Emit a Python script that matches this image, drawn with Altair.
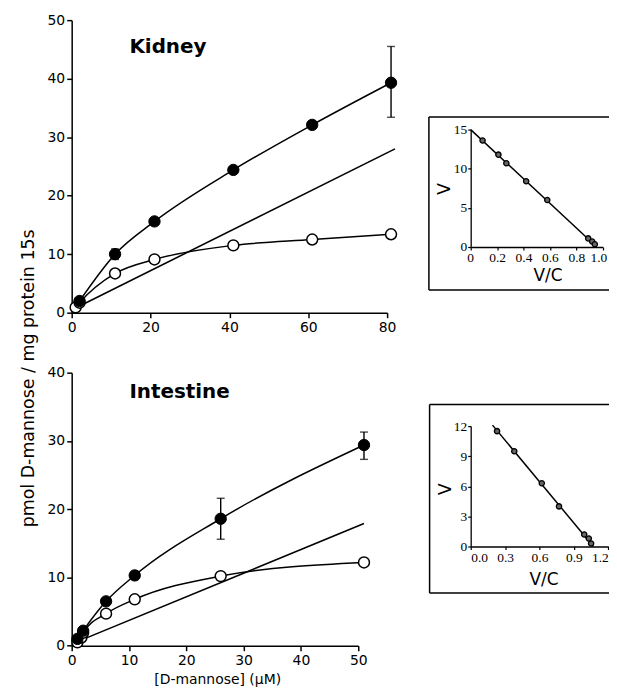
import altair as alt
import pandas as pd

# ---------------- Kidney (main) ----------------
kid_x_filled = [2, 11, 21, 41, 61, 81]
kid_y_filled = [2.0, 10.0, 15.6, 24.4, 32.1, 39.3]
kid_err_x = [11, 81]
kid_err_lo = [9.1, 33.4]
kid_err_hi = [10.9, 45.5]
kid_x_open = [1, 2, 11, 21, 41, 61, 81]
kid_y_open = [0.9, 1.7, 6.7, 9.1, 11.5, 12.5, 13.4]
kid_lin_x = [1, 82]
kid_lin_y = [0.8, 28.0]

# ---------------- Intestine (main) ----------------
int_x_filled = [1, 2, 6, 11, 26, 51]
int_y_filled = [1.0, 2.2, 6.5, 10.3, 18.6, 29.4]
int_err_x = [11, 26, 51]
int_err_lo = [9.7, 15.6, 27.3]
int_err_hi = [10.9, 21.6, 31.3]
int_x_open = [1, 1.7, 2, 6, 11, 26, 51]
int_y_open = [0.5, 1.2, 1.9, 4.7, 6.8, 10.2, 12.2]
int_lin_x = [1, 51]
int_lin_y = [0.6, 17.9]

# ---------------- Insets (Eadie-Hofstee) ----------------
kin_vc = [0.09, 0.21, 0.27, 0.42, 0.58, 0.89, 0.92, 0.94]
kin_v = [13.6, 11.8, 10.7, 8.4, 6.0, 1.1, 0.7, 0.35]
kin_line_vc = [0.0, 0.955]
kin_line_v = [15.0, 0.0]

iin_vc = [0.23, 0.38, 0.62, 0.77, 0.99, 1.03, 1.05]
iin_v = [11.5, 9.5, 6.3, 4.0, 1.2, 0.8, 0.3]
iin_line_vc = [0.19, 1.07]
iin_line_v = [12.1, 0.0]

SANS = "DejaVu Sans"
SERIF = "Liberation Serif"
one = pd.DataFrame({"a": [0]})


def main_panel(xf, yf, xo, yo, ex, elo, ehi, lx, ly, xmax, ymax, xticks, yticks,
               w, h, label, label_pos, extra_texts):
    xs = alt.Scale(domain=[0, xmax], nice=False, zero=True)
    ys = alt.Scale(domain=[0, ymax], nice=False, zero=True)
    xax = alt.Axis(values=xticks, title=None, grid=False, domainColor="black",
                   domainWidth=1.5, tickColor="black", tickWidth=1.5, tickSize=5,
                   labelFont=SANS, labelFontSize=14, labelColor="black", labelPadding=3,
                   labelFlush=False)
    yax = alt.Axis(values=yticks, title=None, grid=False, domainColor="black",
                   domainWidth=1.5, tickColor="black", tickWidth=1.5, tickSize=5,
                   labelFont=SANS, labelFontSize=14, labelColor="black", labelPadding=2,
                   labelFlush=False)
    X = alt.X("x:Q", scale=xs, axis=xax)
    Y = alt.Y("y:Q", scale=ys, axis=yax)

    dfl = pd.DataFrame({"x": lx, "y": ly})
    dff = pd.DataFrame({"x": xf, "y": yf})
    dfo = pd.DataFrame({"x": xo, "y": yo})
    dfe = pd.DataFrame({"x": ex, "y": elo, "y2": ehi})

    lin = alt.Chart(dfl).mark_line(color="black", strokeWidth=1.6).encode(x=X, y=Y)
    cf = alt.Chart(dff).mark_line(color="black", strokeWidth=1.5,
                                  interpolate="monotone").encode(x=X, y=Y)
    co = alt.Chart(dfo).mark_line(color="black", strokeWidth=1.5,
                                  interpolate="monotone").encode(x=X, y=Y)
    er = alt.Chart(dfe).mark_rule(color="black", strokeWidth=1.4).encode(
        x=X, y=Y, y2="y2:Q")
    cap_lo = alt.Chart(dfe).mark_tick(color="black", orient="horizontal", size=8,
                                      thickness=1.4).encode(x=X, y=Y)
    cap_hi = alt.Chart(dfe).mark_tick(color="black", orient="horizontal", size=8,
                                      thickness=1.4).encode(x=X, y=alt.Y("y2:Q", scale=ys))
    po = alt.Chart(dfo).mark_point(shape="circle", filled=True, fill="white",
                                   stroke="black", strokeWidth=1.5, size=120,
                                   opacity=1).encode(x=X, y=Y)
    pf = alt.Chart(dff).mark_point(shape="circle", filled=True, fill="black",
                                   stroke="black", strokeWidth=1, size=130,
                                   opacity=1).encode(x=X, y=Y)
    lab = alt.Chart(one).mark_text(text=label, font=SANS, fontWeight="bold",
                                   fontSize=20, align="left", baseline="middle",
                                   color="black").encode(
        x=alt.value(label_pos[0]), y=alt.value(label_pos[1]))
    layers = [lin, cf, co, er, cap_lo, cap_hi, po, pf, lab]
    for (t, px, py, ang, fs) in extra_texts:
        kw = dict(text=t, font=SANS, fontSize=fs, align="center", baseline="middle",
                  color="black")
        if ang:
            kw["angle"] = ang
        layers.append(alt.Chart(one).mark_text(**kw).encode(
            x=alt.value(px), y=alt.value(py)))
    return alt.layer(*layers).properties(width=w, height=h)


def inset_panel(pvc, pv, lvc, lv, xmax, ymax, xticks, yticks, xfmt_expr, w, h,
                frame, vc_pos, v_pos, flush_off):
    xs = alt.Scale(domain=[0, xmax], nice=False, zero=True)
    ys = alt.Scale(domain=[0, ymax], nice=False, zero=True)
    xax = alt.Axis(values=xticks, title=None, grid=False, domainColor="black",
                   domainWidth=1.3, tickColor="black", tickWidth=1.2, tickSize=3,
                   labelFont=SERIF, labelFontSize=13.5, labelColor="black",
                   labelPadding=1, labelFlush=True, labelFlushOffset=flush_off,
                   labelExpr=xfmt_expr)
    yax = alt.Axis(values=yticks, title=None, grid=False, domainColor="black",
                   domainWidth=1.3, tickColor="black", tickWidth=1.2, tickSize=3,
                   labelFont=SERIF, labelFontSize=13.5, labelColor="black",
                   labelPadding=1, labelFlush=False)
    X = alt.X("x:Q", scale=xs, axis=xax)
    Y = alt.Y("y:Q", scale=ys, axis=yax)
    dfl = pd.DataFrame({"x": lvc, "y": lv})
    dfp = pd.DataFrame({"x": pvc, "y": pv})
    lin = alt.Chart(dfl).mark_line(color="black", strokeWidth=1.5).encode(x=X, y=Y)
    pts = alt.Chart(dfp).mark_point(shape="circle", filled=True, fill="#666666",
                                    stroke="black", strokeWidth=1.3, size=28,
                                    opacity=1).encode(x=X, y=Y)
    fx1, fy1, fx2, fy2 = frame
    fl = alt.Chart(one).mark_rule(color="black", strokeWidth=1.5).encode(
        x=alt.value(fx1), y=alt.value(fy1), y2=alt.value(fy2))
    ft = alt.Chart(one).mark_rule(color="black", strokeWidth=1.5).encode(
        x=alt.value(fx1), x2=alt.value(fx2), y=alt.value(fy1))
    fb = alt.Chart(one).mark_rule(color="black", strokeWidth=1.5).encode(
        x=alt.value(fx1), x2=alt.value(fx2), y=alt.value(fy2))
    tvc = alt.Chart(one).mark_text(text="V/C", font=SANS, fontSize=17,
                                   align="center", baseline="middle",
                                   color="black").encode(
        x=alt.value(vc_pos[0]), y=alt.value(vc_pos[1]))
    tv = alt.Chart(one).mark_text(text="V", font=SANS, fontSize=17, angle=270,
                                  align="center", baseline="middle",
                                  color="black").encode(
        x=alt.value(v_pos[0]), y=alt.value(v_pos[1]))
    return alt.layer(fl, ft, fb, lin, pts, tvc, tv).properties(width=w, height=h)


def spacer(w, h):
    return alt.Chart(one).mark_point(opacity=0).encode(
        x=alt.value(0), y=alt.value(0)).properties(width=w, height=h)


kidney = main_panel(kid_x_filled, kid_y_filled, kid_x_open, kid_y_open,
                    kid_err_x, kid_err_lo, kid_err_hi, kid_lin_x, kid_lin_y,
                    80, 50, [0, 20, 40, 60, 80], [0, 10, 20, 30, 40, 50],
                    317, 294, "Kidney", (58, 27),
                    [("pmol D-mannose / mg protein 15s", -43, 360, 270, 17.5)])

intestine = main_panel(int_x_filled, int_y_filled, int_x_open, int_y_open,
                       int_err_x, int_err_lo, int_err_hi, int_lin_x, int_lin_y,
                       50, 40, [0, 10, 20, 30, 40, 50], [0, 10, 20, 30, 40],
                       288, 274.4, "Intestine", (58, 19.4),
                       [("[D-mannose] (\u03bcM)", 146.7, 309, 0, 14)])

kid_inset = inset_panel(kin_vc, kin_v, kin_line_vc, kin_line_v, 1.0, 15,
                        [0, 0.2, 0.4, 0.6, 0.8, 1.0], [0, 5, 10, 15],
                        "datum.value == 0 ? '0' : format(datum.value, '.1f')",
                        132.7, 118, (-42, -12.7, 150, 161.3),
                        (77.7, 147.5), (-25.5, 59.6), 4)

int_inset = inset_panel(iin_vc, iin_v, iin_line_vc, iin_line_v, 1.2, 12,
                        [0, 0.3, 0.6, 0.9, 1.2], [0, 3, 6, 9, 12],
                        "format(datum.value, '.1f')",
                        138.3, 121, (-41.3, -21.7, 150, 167.7),
                        (73.7, 155), (-25, 63.3), 0)

left = alt.vconcat(kidney, intestine, spacing=60.3, bounds="flush")
right = alt.vconcat(spacer(130, 110), kid_inset, spacer(130, 179.3), int_inset,
                    spacing=0, bounds="flush")

chart = alt.hconcat(left, right, spacing=28, bounds="full").properties(
    padding={"left": 12, "top": 3.5, "right": -12, "bottom": 0},
    background="white",
).configure_view(stroke=None)

chart.save("out.html", embed_options={"renderer": "svg", "actions": False})
